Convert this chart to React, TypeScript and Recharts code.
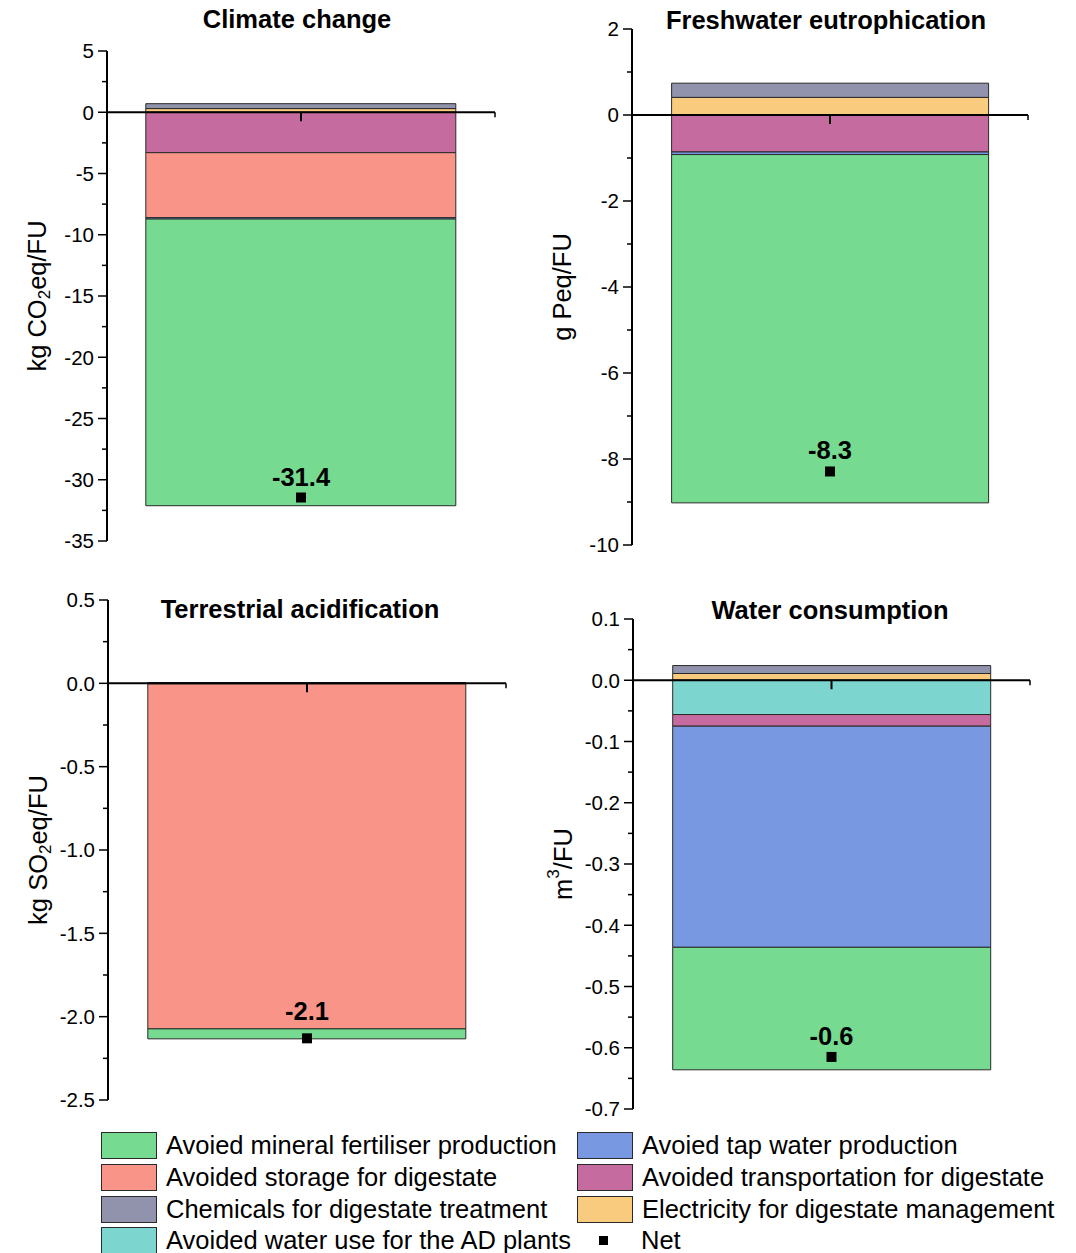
import React from 'react';
import { ComposedChart, Bar, Line, XAxis, YAxis, ReferenceLine, LabelList } from 'recharts';

// one value per impact category, in this order
const impactCategories = ['Climate change', 'Freshwater eutrophication', 'Terrestrial acidification', 'Water consumption'];

const electricity = [0.3, 0.41, 0.002, 0.011];
const chemicals = [0.4, 0.33, 0.002, 0.013];
const adWaterUse = [0, 0, 0, -0.056];
const transportation = [-3.3, -0.86, -0.003, -0.019];
const storage = [-5.3, 0, -2.07, 0];
const tapWater = [-0.12, -0.06, 0, -0.361];
const fertiliser = [-23.4, -8.1, -0.06, -0.2];
const net = [-31.45, -8.29, -2.13, -0.615];

const majorTicks = [
  [5, 0, -5, -10, -15, -20, -25, -30, -35],
  [2, 0, -2, -4, -6, -8, -10],
  [0.5, 0, -0.5, -1, -1.5, -2, -2.5],
  [0.1, 0, -0.1, -0.2, -0.3, -0.4, -0.5, -0.6, -0.7],
];
const minorTicks = [
  [2.5, -2.5, -7.5, -12.5, -17.5, -22.5, -27.5, -32.5],
  [1, -1, -3, -5, -7, -9],
  [0.25, -0.25, -0.75, -1.25, -1.75, -2.25],
  [0.05, -0.05, -0.15, -0.25, -0.35, -0.45, -0.55, -0.65],
];
const tickDecimals = [0, 0, 1, 1];

const yLabels = [
  { pre: 'kg CO', script: '2', post: 'eq/FU', sup: false },
  { pre: 'g Peq/FU', script: '', post: '', sup: false },
  { pre: 'kg SO', script: '2', post: 'eq/FU', sup: false },
  { pre: 'm', script: '3', post: '/FU', sup: true },
];

const series = [
  { key: 'electricity', name: 'Electricity for digestate management', values: electricity, color: '#f8cb7f' },
  { key: 'chemicals', name: 'Chemicals for digestate treatment', values: chemicals, color: '#9192ab' },
  { key: 'adWater', name: 'Avoided water use for the AD plants', values: adWaterUse, color: '#7cd6cf' },
  { key: 'transport', name: 'Avoided transportation for digestate', values: transportation, color: '#c66b9f' },
  { key: 'storage', name: 'Avoided storage for digestate', values: storage, color: '#f89588' },
  { key: 'tap', name: 'Avoied tap water production', values: tapWater, color: '#7898e1' },
  { key: 'fertiliser', name: 'Avoied mineral fertiliser production', values: fertiliser, color: '#76da91' },
];

const legendLeft = ['fertiliser', 'storage', 'chemicals', 'adWater'];
const legendRight = ['tap', 'transport', 'electricity'];

// pixel placement of each panel's plot box
const boxes = [
  { axisX: 107, top: 51, bottom: 541, right: 495, titleX: 297, titleY: 20, netGap: 12 },
  { axisX: 632, top: 29, bottom: 545, right: 1028, titleX: 826, titleY: 21, netGap: 12 },
  { axisX: 108, top: 600, bottom: 1100, right: 506, titleX: 300, titleY: 610, netGap: 18 },
  { axisX: 633, top: 619, bottom: 1109, right: 1030, titleX: 830, titleY: 611, netGap: 12 },
];

const FONT = '"Liberation Sans", Arial, sans-serif';
const EDGE = '#2a2a2a';

function makeTick(majors: number[], decimals: number) {
  return (props: any) => {
    const { x, y, payload } = props;
    const v = payload.value;
    const isMajor = majors.some(m => Math.abs(m - v) < 1e-9);
    return (
      <g>
        <line x1={x - (isMajor ? 9 : 5)} x2={x} y1={y} y2={y} stroke="#000" strokeWidth={1.5} />
        {isMajor && (
          <text x={x - 13} y={y} dy="0.36em" textAnchor="end" fontSize={20.5} fontFamily={FONT} fill="#000">
            {v.toFixed(decimals)}
          </text>
        )}
      </g>
    );
  };
}

function ZeroAxisTicks(props: any) {
  const vb = props.viewBox || {};
  const cx = vb.x + vb.width / 2;
  const ex = vb.x + vb.width;
  return (
    <g>
      <line x1={cx} x2={cx} y1={vb.y} y2={vb.y + 9} stroke="#000" strokeWidth={2} />
      <line x1={ex} x2={ex} y1={vb.y} y2={vb.y + 5} stroke="#000" strokeWidth={1.5} />
    </g>
  );
}

function YTitle(props: any, idx: number) {
  const vb = props.viewBox || {};
  const cx = vb.x + vb.width - 70;
  const cy = vb.y + vb.height / 2;
  const lab = yLabels[idx];
  const shift = lab.sup ? -10 : 7;
  return (
    <text
      x={cx}
      y={cy}
      transform={`rotate(-90, ${cx}, ${cy})`}
      textAnchor="middle"
      dominantBaseline="central"
      fontSize={25.5}
      fontFamily={FONT}
      fill="#000"
    >
      <tspan>{lab.pre}</tspan>
      {lab.script && (
        <tspan dy={shift} fontSize={17}>
          {lab.script}
        </tspan>
      )}
      {lab.post && <tspan dy={-shift}>{lab.post}</tspan>}
    </text>
  );
}

function NetDot(props: any) {
  const { cx, cy } = props;
  if (cx == null || cy == null) return <g />;
  return <rect x={cx - 5} y={cy - 5} width={10} height={10} fill="#000" />;
}

function Panel({ idx }: { idx: number }) {
  const b = boxes[idx];
  const row: any = { name: impactCategories[idx], net: net[idx] };
  series.forEach(s => {
    row[s.key] = s.values[idx];
  });
  const domain = [majorTicks[idx][majorTicks[idx].length - 1], majorTicks[idx][0]];
  const ticks = [...majorTicks[idx], ...minorTicks[idx]].sort((a, c) => c - a);
  const mTop = 40;
  const mBottom = 30;
  const width = 100 + (b.right - b.axisX) + 20;
  const height = mTop + (b.bottom - b.top) + mBottom;

  return (
    <>
      <div
        style={{
          position: 'absolute',
          left: b.titleX,
          top: b.titleY,
          transform: 'translate(-50%, -50%)',
          fontFamily: FONT,
          fontWeight: 'bold',
          fontSize: 25.5,
          lineHeight: 1,
          whiteSpace: 'nowrap',
          zIndex: 2,
        }}
      >
        {impactCategories[idx]}
      </div>
      <div style={{ position: 'absolute', left: b.axisX - 100, top: b.top - mTop }}>
        <ComposedChart
          width={width}
          height={height}
          data={[row]}
          stackOffset="sign"
          barCategoryGap="10%"
          margin={{ top: mTop, right: 20, bottom: mBottom, left: 0 }}
        >
          <XAxis dataKey="name" type="category" hide />
          <YAxis
            type="number"
            domain={domain}
            ticks={ticks}
            interval={0}
            width={100}
            tickSize={0}
            tickMargin={0}
            tickLine={false}
            axisLine={{ stroke: '#000', strokeWidth: 2 }}
            tick={makeTick(majorTicks[idx], tickDecimals[idx])}
            allowDataOverflow
            label={{ content: (p: any) => YTitle(p, idx) }}
          />
          {series.map(s => (
            <Bar
              key={s.key}
              dataKey={s.key}
              name={s.name}
              stackId="a"
              fill={s.color}
              stroke={EDGE}
              strokeWidth={1}
              isAnimationActive={false}
            />
          ))}
          <ReferenceLine y={0} stroke="#000" strokeWidth={2} label={<ZeroAxisTicks />} />
          <Line
            dataKey="net"
            stroke="none"
            dot={<NetDot />}
            activeDot={false}
            isAnimationActive={false}
          >
            <LabelList
              dataKey="net"
              position="top"
              offset={b.netGap}
              formatter={(v: any) => Number(v).toFixed(1)}
              style={{ fontFamily: FONT, fontWeight: 'bold', fontSize: 25.5, fill: '#000' }}
            />
          </Line>
        </ComposedChart>
      </div>
    </>
  );
}

function LegendItem({ x, y, color, label }: { x: number; y: number; color: string; label: string }) {
  return (
    <div style={{ position: 'absolute', left: x, top: y, height: 27, display: 'flex', alignItems: 'center' }}>
      <div style={{ width: 54, height: 25, background: color, border: `1.5px solid ${EDGE}` }} />
      <span style={{ marginLeft: 9, fontFamily: FONT, fontSize: 25.5, whiteSpace: 'nowrap', lineHeight: 1 }}>{label}</span>
    </div>
  );
}

export default function App() {
  const rowY = [1132, 1164, 1196, 1227];
  const find = (k: string) => series.find(s => s.key === k)!;
  return (
    <div style={{ position: 'absolute', left: 0, top: 0, width: 1076, height: 1253, background: '#fff', overflow: 'hidden' }}>
      {impactCategories.map((_, i) => (
        <Panel key={i} idx={i} />
      ))}
      {legendLeft.map((k, i) => (
        <LegendItem key={k} x={101} y={rowY[i]} color={find(k).color} label={find(k).name} />
      ))}
      {legendRight.map((k, i) => (
        <LegendItem key={k} x={577} y={rowY[i]} color={find(k).color} label={find(k).name} />
      ))}
      <div style={{ position: 'absolute', left: 599, top: rowY[3] + 9, width: 9, height: 9, background: '#000' }} />
      <span
        style={{
          position: 'absolute',
          left: 641,
          top: rowY[3] + 1,
          fontFamily: FONT,
          fontSize: 25.5,
          lineHeight: 1,
        }}
      >
        Net
      </span>
    </div>
  );
}
